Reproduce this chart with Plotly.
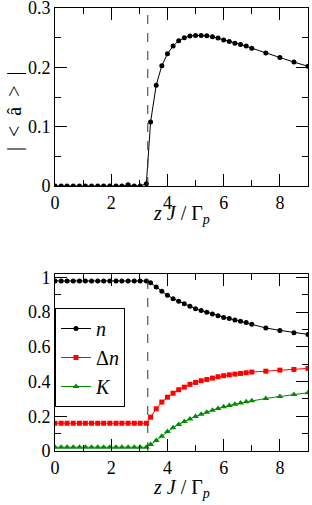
import plotly.graph_objects as go

# ---------------- data ----------------
x_vals = [0, 0.22, 0.43, 0.65, 0.87, 1.08, 1.3, 1.52, 1.73, 1.95, 2.17, 2.38, 2.6, 2.82, 3.03, 3.25,
          3.4, 3.6, 3.8, 4.0, 4.2, 4.4, 4.6, 4.8, 5.0, 5.2, 5.4, 5.6, 5.8, 6.0, 6.2, 6.4, 6.6, 6.8, 7.0,
          7.5, 8.0, 8.5, 9.0]

a_abs = [0, 0, 0, 0, 0, 0, 0, 0, 0, 0, 0, 0, 0.002, 0, 0, 0.004,
         0.108, 0.170, 0.203, 0.223, 0.236, 0.245, 0.250, 0.253, 0.254, 0.254, 0.2535, 0.252, 0.2495,
         0.2465, 0.2437, 0.241, 0.2386, 0.236, 0.2325, 0.2245, 0.217, 0.209, 0.202]

n_vals = [0.98] * 16 + [0.970, 0.945, 0.920, 0.897, 0.878, 0.863, 0.849, 0.834, 0.820, 0.809, 0.799,
                        0.790, 0.780, 0.770, 0.763, 0.755, 0.747, 0.740, 0.730, 0.709, 0.695, 0.682, 0.672]

dn_vals = [0.16] * 16 + [0.195, 0.243, 0.282, 0.310, 0.333, 0.353, 0.368, 0.384, 0.395, 0.405, 0.412,
                         0.420, 0.428, 0.434, 0.439, 0.443, 0.447, 0.451, 0.455, 0.460, 0.466, 0.470, 0.476]

k_vals = [0.022] * 16 + [0.037, 0.061, 0.085, 0.112, 0.134, 0.153, 0.170, 0.185, 0.199, 0.212, 0.224,
                         0.235, 0.245, 0.255, 0.262, 0.270, 0.276, 0.284, 0.289, 0.303, 0.314, 0.326, 0.336]

x_critical = 3.3

x_ticks = [0, 2, 4, 6, 8]
y_ticks_top = [0, 0.1, 0.2, 0.3]
y_ticklabels_top = ["0", "0.1", "0.2", "0.3"]
y_ticks_bot = [0, 0.2, 0.4, 0.6, 0.8, 1]
y_ticklabels_bot = ["0", "0.2", "0.4", "0.6", "0.8", "1"]

# ---------------- layout helpers ----------------
W, H = 312, 505
FONT = "Liberation Serif"

def px_x(p):
    return p / W

def px_y(p):
    return 1 - p / H

fig = go.Figure()

fig.add_trace(go.Scatter(x=x_vals, y=a_abs, mode="lines+markers", xaxis="x", yaxis="y",
                         line=dict(color="black", width=1),
                         marker=dict(symbol="circle", size=5, color="black"),
                         showlegend=False))

fig.add_trace(go.Scatter(x=x_vals, y=n_vals, mode="lines+markers", xaxis="x2", yaxis="y2",
                         name="<i>n</i>",
                         line=dict(color="black", width=1),
                         marker=dict(symbol="circle", size=5, color="black")))
fig.add_trace(go.Scatter(x=x_vals, y=dn_vals, mode="lines+markers", xaxis="x2", yaxis="y2",
                         name="Δ<i>n</i>",
                         line=dict(color="#ff0000", width=1),
                         marker=dict(symbol="square", size=5, color="#ff0000")))
fig.add_trace(go.Scatter(x=x_vals, y=k_vals, mode="lines+markers", xaxis="x2", yaxis="y2",
                         name="<i>K</i>",
                         line=dict(color="#008b00", width=1),
                         marker=dict(symbol="triangle-up", size=6, color="#008b00")))

xdom = [px_x(55), px_x(308)]
ax_common = dict(showgrid=False, zeroline=False, showline=True, linecolor="black", linewidth=1,
                 mirror="ticks", ticks="inside", ticklen=12, tickwidth=1, tickcolor="black",
                 ticklabeloverflow="allow",
                 tickfont=dict(family=FONT, size=18, color="black"))

fig.update_layout(
    width=W, height=H,
    margin=dict(l=0, r=0, t=0, b=0, autoexpand=False),
    paper_bgcolor="white", plot_bgcolor="white",
    font=dict(family=FONT, color="black"),
    xaxis=dict(domain=xdom, anchor="y", range=[0, 9], tickvals=x_ticks,
               minor=dict(dtick=1, ticklen=6, ticks="inside", tickcolor="black"), **ax_common),
    yaxis=dict(domain=[px_y(186), px_y(8)], anchor="x", range=[0, 0.3003],
               tickvals=y_ticks_top, ticktext=y_ticklabels_top,
               minor=dict(dtick=0.05, ticklen=6, ticks="inside", tickcolor="black"), **ax_common),
    xaxis2=dict(domain=xdom, anchor="y2", range=[0, 9], tickvals=x_ticks,
                minor=dict(dtick=1, ticklen=6, ticks="inside", tickcolor="black"), **ax_common),
    yaxis2=dict(domain=[px_y(451), px_y(274)], anchor="x2", range=[0, 1.02],
                tickvals=y_ticks_bot, ticktext=y_ticklabels_bot,
                minor=dict(dtick=0.1, ticklen=6, ticks="inside", tickcolor="black"), **ax_common),
    legend=dict(x=px_x(55), y=px_y(308), xanchor="left", yanchor="top",
                bgcolor="white", bordercolor="black", borderwidth=1,
                font=dict(family=FONT, size=20, color="black"),
                tracegroupgap=0, itemwidth=30),
    shapes=[
        dict(type="line", xref="x", yref="y domain", x0=x_critical, x1=x_critical, y0=0, y1=1,
             line=dict(color="#333333", width=1, dash="dash")),
        dict(type="line", xref="x2", yref="y2 domain", x0=x_critical, x1=x_critical, y0=0, y1=1,
             line=dict(color="#333333", width=1, dash="dash")),
    ],
    annotations=[
        dict(text="<i>z J</i> / Γ<sub><i>p</i></sub>", xref="paper", yref="paper",
             x=px_x(181), y=px_y(215), xanchor="center", yanchor="middle", showarrow=False,
             font=dict(family=FONT, size=20, color="black")),
        dict(text="<i>z J</i> / Γ<sub><i>p</i></sub>", xref="paper", yref="paper",
             x=px_x(181), y=px_y(488), xanchor="center", yanchor="middle", showarrow=False,
             font=dict(family=FONT, size=20, color="black")),
        dict(text="|\u2002&lt;\u2002â\u2002&gt;\u2002|", xref="paper", yref="paper", textangle=-90,
             x=px_x(15), y=px_y(112), xanchor="center", yanchor="middle", showarrow=False,
             font=dict(family=FONT, size=20, color="black")),
    ],
)

fig.write_html("out.html", config={"displayModeBar": False},
               post_script="document.body.style.margin='0';document.body.style.padding='0';")
